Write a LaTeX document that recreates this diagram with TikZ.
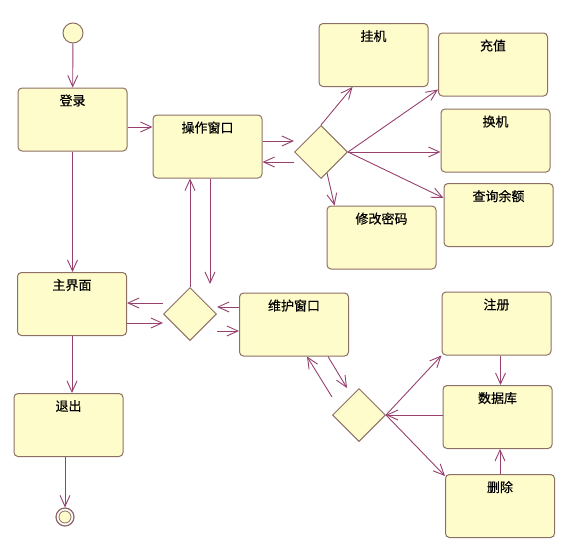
\documentclass[tikz,border=0pt]{standalone}
\usepackage{fontspec}
\newfontfamily\cjk{Noto Sans CJK SC}[FakeBold=0.4]
\usepackage{tikz}
\usetikzlibrary{shapes.geometric,arrows.meta}
\definecolor{statefill}{RGB}{255,252,204}
\definecolor{stateline}{RGB}{140,112,100}
\definecolor{flowline}{RGB}{150,64,110}

\begin{document}
\begin{tikzpicture}[x=1pt, y=-1pt,
   state/.style={rectangle, rounded corners=4pt, draw=stateline, line width=1pt, fill=statefill,
      minimum width=109pt, minimum height=63pt,
      label={[anchor=north, yshift=-3.5pt, font=\cjk\fontsize{13}{15}\selectfont]north:#1}},
   choice/.style={diamond, draw=stateline, line width=1pt, fill=statefill,
      minimum width=53pt, minimum height=53pt, inner sep=0pt},
   flow/.style={draw=flowline, line width=0.9pt, -{Straight Barb[length=11pt,width=10pt]}}]

   \useasboundingbox (0,0) rectangle (571,546);

   % Start and end
   \node at (73,33) [circle, draw=stateline, line width=1pt, fill=statefill, minimum size=20pt, inner sep=0pt] (start) {};
   \node at (65,517) [circle, draw=stateline!80!flowline, line width=1.2pt, fill=white, minimum size=18pt, inner sep=0pt] (stop) {};
   \node at (65,517) [circle, draw=stateline, line width=0.8pt, fill=statefill, minimum size=12pt, inner sep=0pt] (stopdot) {};

   % Left column
   \node at (72.5,119.5) [state=登录] (login) {};
   \node at (72,304) [state=主界面] (main) {};
   \node at (68.5,425) [state=退出] (quit) {};

   % Operation window
   \node at (207.5,146.5) [state=操作窗口] (op) {};
   \node at (190,314) [choice] (d1) {};
   \node at (294,324.5) [state=维护窗口] (maint) {};

   % Operation choices
   \node at (321,152) [choice] (d2) {};
   \node at (373.5,55) [state=挂机] (hang) {};
   \node at (493,64.5) [state=充值] (charge) {};
   \node at (495.5,140.5) [state=换机] (swap) {};
   \node at (498.5,215) [state=查询余额] (query) {};
   \node at (381.5,237.5) [state=修改密码] (pwd) {};

   % Maintenance choices
   \node at (359,415) [choice] (d3) {};
   \node at (496.5,323.5) [state=注册] (reg) {};
   \node at (497.5,417) [state=数据库] (db) {};
   \node at (500,506) [state=删除] (del) {};

   % Left column flows
   \draw[flow] (start) -- (login);
   \draw[flow] (login.south) -- (login.south |- main.north);
   \draw[flow] (main.south) -- (main.south |- quit.north);
   \draw[flow] (quit.south -| stop.north) -- (stop.north);
   \draw[flow] ([yshift=-7.5pt]login.east) -- ([yshift=-7.5pt]login.east -| op.west);

   % Main screen and first choice
   \draw[flow] ([yshift=11pt]d1.west) -- ([yshift=11pt]d1.west -| main.east);
   \draw[flow] ([yshift=-9pt]d1.west -| main.east) -- ([yshift=-9pt]d1.west);
   \draw[flow] (d1.north) -- (d1.north |- op.south);
   \draw[flow] ([xshift=20pt]d1.north |- op.south) -- ([xshift=20pt,yshift=3pt]d1.north);
   \draw[flow] ([yshift=7pt]d1.east -| maint.west) -- ([yshift=7pt]d1.east);
   \draw[flow] ([yshift=-17pt]d1.east) -- ([yshift=-17pt]d1.east -| maint.west);

   % Operation window and its choices
   \draw[flow] ([yshift=11pt]d2.west -| op.east) -- ([yshift=11pt]d2.west);
   \draw[flow] ([yshift=-10pt]d2.west) -- ([yshift=-10pt]d2.west -| op.east);
   \draw[flow] (d2.north) -- ([xshift=-21pt]hang.south);
   \draw[flow] (d2.east) -- ([yshift=7pt]charge.south west);
   \draw[flow] (d2.east) -- (d2.east -| swap.west);
   \draw[flow] (d2.east) -- ([yshift=17pt]query.west);
   \draw[flow] ([xshift=6pt,yshift=6pt]d2.south) -- ([xshift=8pt]pwd.north west);

   % Maintenance window and its choices
   \draw[flow] ([yshift=18pt]d3.west) -- ([xshift=13pt]maint.south);
   \draw[flow] ([xshift=34pt]maint.south) -- ([xshift=-12pt]d3.north);
   \draw[flow] (d3.east) -- (reg.south west);
   \draw[flow] (db.west |- d3.east) -- (d3.east);
   \draw[flow] (d3.east) -- ([yshift=-2pt]del.north west);
   \draw[flow] ([xshift=4pt]reg.south) -- ([xshift=4pt]reg.south |- db.north);
   \draw[flow] (del.north) -- (del.north |- db.south);

\end{tikzpicture}
\end{document}
